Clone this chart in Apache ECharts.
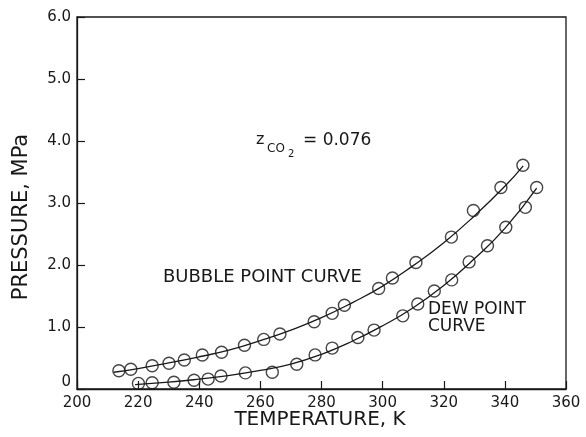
<!DOCTYPE html>
<html><head><meta charset="utf-8">
<script src="https://cdn.jsdelivr.net/npm/echarts@6/dist/echarts.min.js"></script>
<style>html,body{margin:0;padding:0;background:#fff}#c{width:586px;height:437px}</style>
</head><body><div id="c"></div>
<script>
// Measured bubble-point data (temperature K, pressure MPa)
const bubbleT = [213.7,217.6,224.6,230.1,235.1,241.0,247.3,254.8,261.1,266.4,277.6,283.5,287.5,298.7,303.2,310.9,322.5,329.7,338.7,345.9];
const bubbleP = [0.295,0.318,0.376,0.415,0.468,0.548,0.592,0.706,0.80,0.887,1.085,1.22,1.35,1.62,1.79,2.04,2.45,2.88,3.25,3.61];
// Measured dew-point data
const dewT = [220.1,224.6,231.7,238.3,242.9,247.1,255.1,263.9,271.9,277.9,283.5,291.9,297.2,306.6,311.5,316.9,322.6,328.3,334.3,340.3,346.7,350.4];
const dewP = [0.09,0.10,0.11,0.14,0.16,0.21,0.26,0.27,0.40,0.55,0.66,0.83,0.95,1.18,1.37,1.58,1.76,2.05,2.31,2.61,2.93,3.25];
// Fitted curves
const bubbleCurveT = [212,220,230,240,250,260,270,280,290,300,310,320,330,340,346];
const bubbleCurveP = [0.27,0.33,0.42,0.52,0.63,0.78,0.95,1.15,1.39,1.66,1.99,2.36,2.79,3.27,3.60];
const dewCurveT = [219,230,240,250,260,270,280,290,300,310,320,330,340,350.4];
const dewCurveP = [0.07,0.11,0.16,0.22,0.30,0.40,0.56,0.77,1.02,1.31,1.67,2.10,2.59,3.24];
// Axis ticks
const xMin = 200, xMax = 360, xStep = 20;
const yMin = 0, yMax = 6, yStep = 1;
// Texts
const xTitle = 'TEMPERATURE, K';
const yTitle = 'PRESSURE, MPa';
const bubbleLabel = 'BUBBLE POINT CURVE';
const dewLabel = 'DEW POINT\nCURVE';
const compValue = '= 0.076';

const zip = (a, b) => a.map((v, i) => [v, b[i]]);
const ink = '#181818';
const FONT = 'DejaVu Sans';

const chart = echarts.init(document.getElementById('c'), null, {renderer: 'canvas'});
const pointStyle = {color: 'rgba(0,0,0,0)', borderColor: ink, borderWidth: 1.4};
const lineStyle = {color: ink, width: 1.3};
chart.setOption({
  animation: false,
  backgroundColor: '#fff',
  textStyle: {fontFamily: FONT},
  grid: {left: 77, right: 20, top: 17, bottom: 48, show: true, borderColor: ink, borderWidth: 1.3, backgroundColor: 'transparent'},
  xAxis: {
    type: 'value', min: xMin, max: xMax, interval: xStep,
    axisLine: {lineStyle: {color: ink, width: 1.3}},
    axisTick: {inside: true, length: 8, lineStyle: {color: ink, width: 1.2}},
    axisLabel: {color: ink, fontSize: 15, fontFamily: FONT, margin: 7},
    splitLine: {show: false}
  },
  yAxis: {
    type: 'value', min: yMin, max: yMax, interval: yStep,
    axisLine: {lineStyle: {color: ink, width: 1.3}},
    axisTick: {inside: true, length: 8, lineStyle: {color: ink, width: 1.2}},
    axisLabel: {
      color: ink, fontSize: 15, fontFamily: FONT, margin: 6,
      formatter: v => v === 0 ? '{z|0}' : v.toFixed(1),
      rich: {z: {fontSize: 15, fontFamily: FONT, color: ink, padding: [0, 0, 14, 0]}}
    },
    splitLine: {show: false}
  },
  graphic: [
    {type: 'text', x: 22, y: 217, rotation: Math.PI / 2,
     style: {text: yTitle, fill: ink, font: '21px "DejaVu Sans"', textAlign: 'center', textVerticalAlign: 'middle'}},
    {type: 'text', x: 320, y: 420,
     style: {text: xTitle, fill: ink, font: '20px "DejaVu Sans"', textAlign: 'center', textVerticalAlign: 'middle'}},
    {type: 'text', x: 163, y: 277,
     style: {text: bubbleLabel, fill: ink, font: '18px "DejaVu Sans"', textAlign: 'left', textVerticalAlign: 'middle'}},
    {type: 'text', x: 428, y: 318,
     style: {text: dewLabel, fill: ink, font: '17px "DejaVu Sans"', lineHeight: 17, textAlign: 'left', textVerticalAlign: 'middle'}},
    {type: 'text', x: 256, y: 140,
     style: {text: 'z', fill: ink, font: '16px "DejaVu Sans"', textAlign: 'left', textVerticalAlign: 'middle'}},
    {type: 'text', x: 267, y: 149,
     style: {text: 'CO', fill: ink, font: '12px "DejaVu Sans"', textAlign: 'left', textVerticalAlign: 'middle'}},
    {type: 'text', x: 288, y: 154,
     style: {text: '2', fill: ink, font: '10px "DejaVu Sans"', textAlign: 'left', textVerticalAlign: 'middle'}},
    {type: 'text', x: 303, y: 141,
     style: {text: compValue, fill: ink, font: '17px "DejaVu Sans"', textAlign: 'left', textVerticalAlign: 'middle'}}
  ],
  series: [
    {type: 'line', data: zip(bubbleCurveT, bubbleCurveP), smooth: true, showSymbol: false, lineStyle, z: 2},
    {type: 'line', data: zip(dewCurveT, dewCurveP), smooth: true, showSymbol: false, lineStyle, z: 2},
    {type: 'scatter', data: zip(bubbleT, bubbleP), symbol: 'circle', symbolSize: 12, itemStyle: pointStyle, z: 3},
    {type: 'scatter', data: zip(dewT, dewP), symbol: 'circle', symbolSize: 12, itemStyle: pointStyle, z: 3}
  ]
});
</script>
</body></html>
